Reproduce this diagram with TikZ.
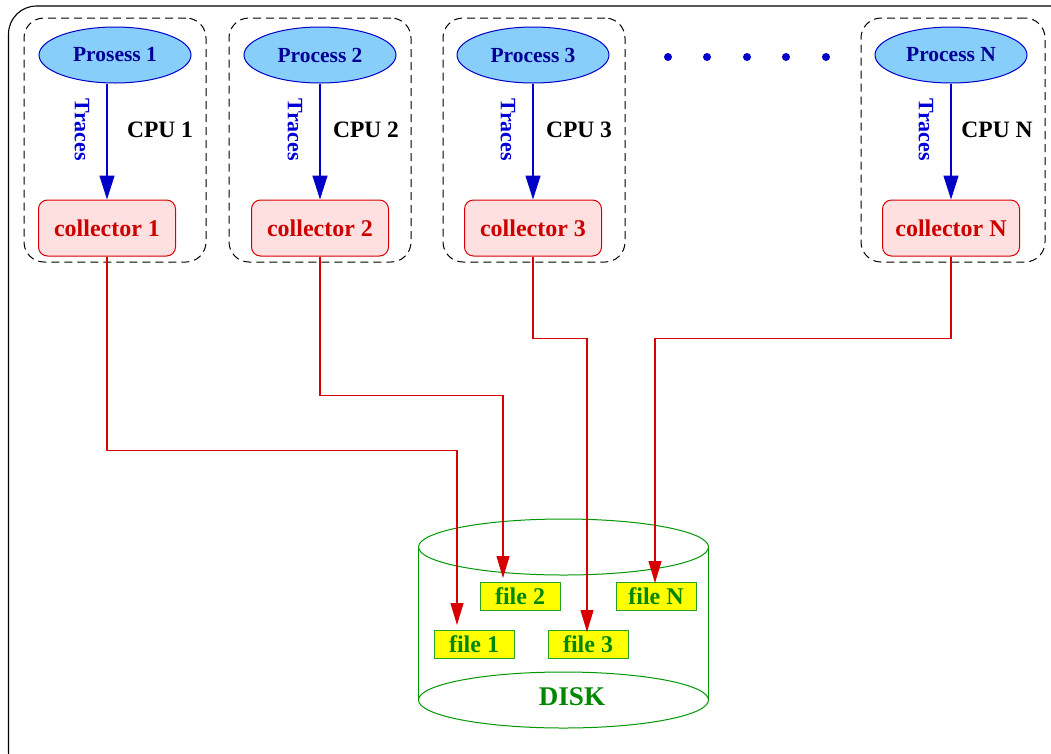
\documentclass[tikz,border=0pt]{standalone}
\usepackage{fontspec}
\setmainfont{Liberation Serif}
\usetikzlibrary{shapes.geometric,arrows.meta}
\definecolor{procfill}{RGB}{135,206,250}
\definecolor{procline}{RGB}{0,0,200}
\definecolor{proctext}{RGB}{0,0,150}
\definecolor{tracecol}{RGB}{0,0,215}
\definecolor{colfill}{RGB}{255,224,224}
\definecolor{colline}{RGB}{215,0,0}
\definecolor{coltext}{RGB}{205,0,0}
\definecolor{filefill}{RGB}{255,255,0}
\definecolor{fileline}{RGB}{40,160,40}
\definecolor{filetext}{RGB}{0,135,0}
\definecolor{diskline}{RGB}{0,150,0}
\tikzset{
  cpubox/.style={draw=black, dash pattern=on 8pt off 5pt, rounded corners=20pt,
    line width=1pt, minimum width=182pt, minimum height=244pt, inner sep=0pt},
  procnode/.style={ellipse, draw=procline, fill=procfill, line width=1pt,
    minimum width=152pt, minimum height=56pt, inner sep=0pt,
    text=proctext, font=\fontsize{21.5}{24}\selectfont\bfseries},
  collnode/.style={draw=colline, fill=colfill, rounded corners=9pt, line width=1pt,
    minimum width=137pt, minimum height=56pt, inner sep=0pt,
    text=coltext, font=\fontsize{24}{28}\selectfont\bfseries},
  cpulbl/.style={text=black, font=\fontsize{23.5}{28}\selectfont\bfseries, inner sep=0pt},
  tracelbl/.style={text=tracecol, rotate=-90, font=\fontsize{22}{26}\selectfont\bfseries, inner sep=0pt},
  tracearrow/.style={draw=procline, line width=1.2pt, -{Triangle[length=24pt,width=15pt]}},
  redarrow/.style={draw=colline, line width=1.1pt, -{Triangle[length=22pt,width=13pt]}},
  filenode/.style={draw=fileline, fill=filefill, line width=1pt,
    minimum width=80pt, minimum height=28pt, inner sep=0pt,
    text=filetext, font=\fontsize{24}{28}\selectfont\bfseries},
  disklbl/.style={text=filetext, font=\fontsize{27}{32}\selectfont\bfseries, inner sep=0pt},
  dotmark/.style={circle, fill=procline, inner sep=0pt, minimum size=8pt},
}
\begin{document}
\begin{tikzpicture}[x=1pt,y=-1pt]
\useasboundingbox (0,0) rectangle (1051,753);
% outer frame, running past the right and bottom edges
\begin{scope}
\clip (0,0) rectangle (1051,753);
\draw[line width=1.1pt, rounded corners=28pt] (8.5,6) rectangle (1080,780);
\end{scope}

% one dashed box per CPU
\node[cpubox] (cpu1) at (115,140) {};
\node[cpubox] (cpu2) at (320,140) {};
\node[cpubox] (cpu3) at (534,140) {};
\node[cpubox, minimum width=184pt] (cpuN) at (953,140) {};

% processes
\node[procnode] (p1) at (115,55) {Prosess 1};
\node[procnode] (p2) at (320,55) {Process 2};
\node[procnode] (p3) at (533,55) {Process 3};
\node[procnode] (pN) at (951,55) {Process N};

% collectors
\node[collnode] (c1) at (107,228) {collector 1};
\node[collnode] (c2) at (320,228) {collector 2};
\node[collnode] (c3) at (533,228) {collector 3};
\node[collnode] (cN) at (951,228) {collector N};

% traces from each process to its collector
\draw[tracearrow] (p1.south -| c1) -- node[xshift=-25pt, pos=0.4, tracelbl] {Traces} (c1.north);
\draw[tracearrow] (p2.south) -- node[xshift=-25pt, pos=0.4, tracelbl] {Traces} (c2.north);
\draw[tracearrow] (p3.south) -- node[xshift=-25pt, pos=0.4, tracelbl] {Traces} (c3.north);
\draw[tracearrow] (pN.south) -- node[xshift=-25pt, pos=0.4, tracelbl] {Traces} (cN.north);

% CPU labels
\node[cpulbl] (l1) at (160,130) {CPU 1};
\node[cpulbl] (l2) at (366,130) {CPU 2};
\node[cpulbl] (l3) at (579,130) {CPU 3};
\node[cpulbl] (lN) at (997,130) {CPU N};

% ellipsis between CPU 3 and CPU N
\foreach \i/\x in {1/668,2/707,3/747,4/786,5/826}
  \node[dotmark] (dot\i) at (\x,57) {};

% the disk
\begin{scope}[line width=1pt]
\draw[diskline] (563.5,547) ellipse [x radius=145, y radius=28];
\draw[diskline] (563.5,700) ellipse [x radius=145, y radius=28];
\draw[diskline] (418.5,547) -- (418.5,700);
\draw[diskline] (708.5,547) -- (708.5,700);
\end{scope}
\node[disklbl] (disk) at (572,697) {DISK};

% files on the disk
\node[filenode] (f1) at (474,644) {file 1};
\node[filenode] (f2) at (520,596) {file 2};
\node[filenode] (f3) at (588,644) {file 3};
\node[filenode] (fN) at (656,596) {file N};

% where each collector's output lands
\coordinate (t1) at (457,625);
\coordinate (t2) at (503,578);
\coordinate (t3) at (587,632);
\coordinate (tN) at (655,583);

% collectors write to disk
\draw[redarrow] (c1.south) -- ++(0,194) -| (t1);
\draw[redarrow] (c2.south) -- ++(0,139) -| (t2);
\draw[redarrow] (c3.south) -- ++(0,82) -| (t3);
\draw[redarrow] (cN.south) -- ++(0,82) -| (tN);
\end{tikzpicture}
\end{document}
